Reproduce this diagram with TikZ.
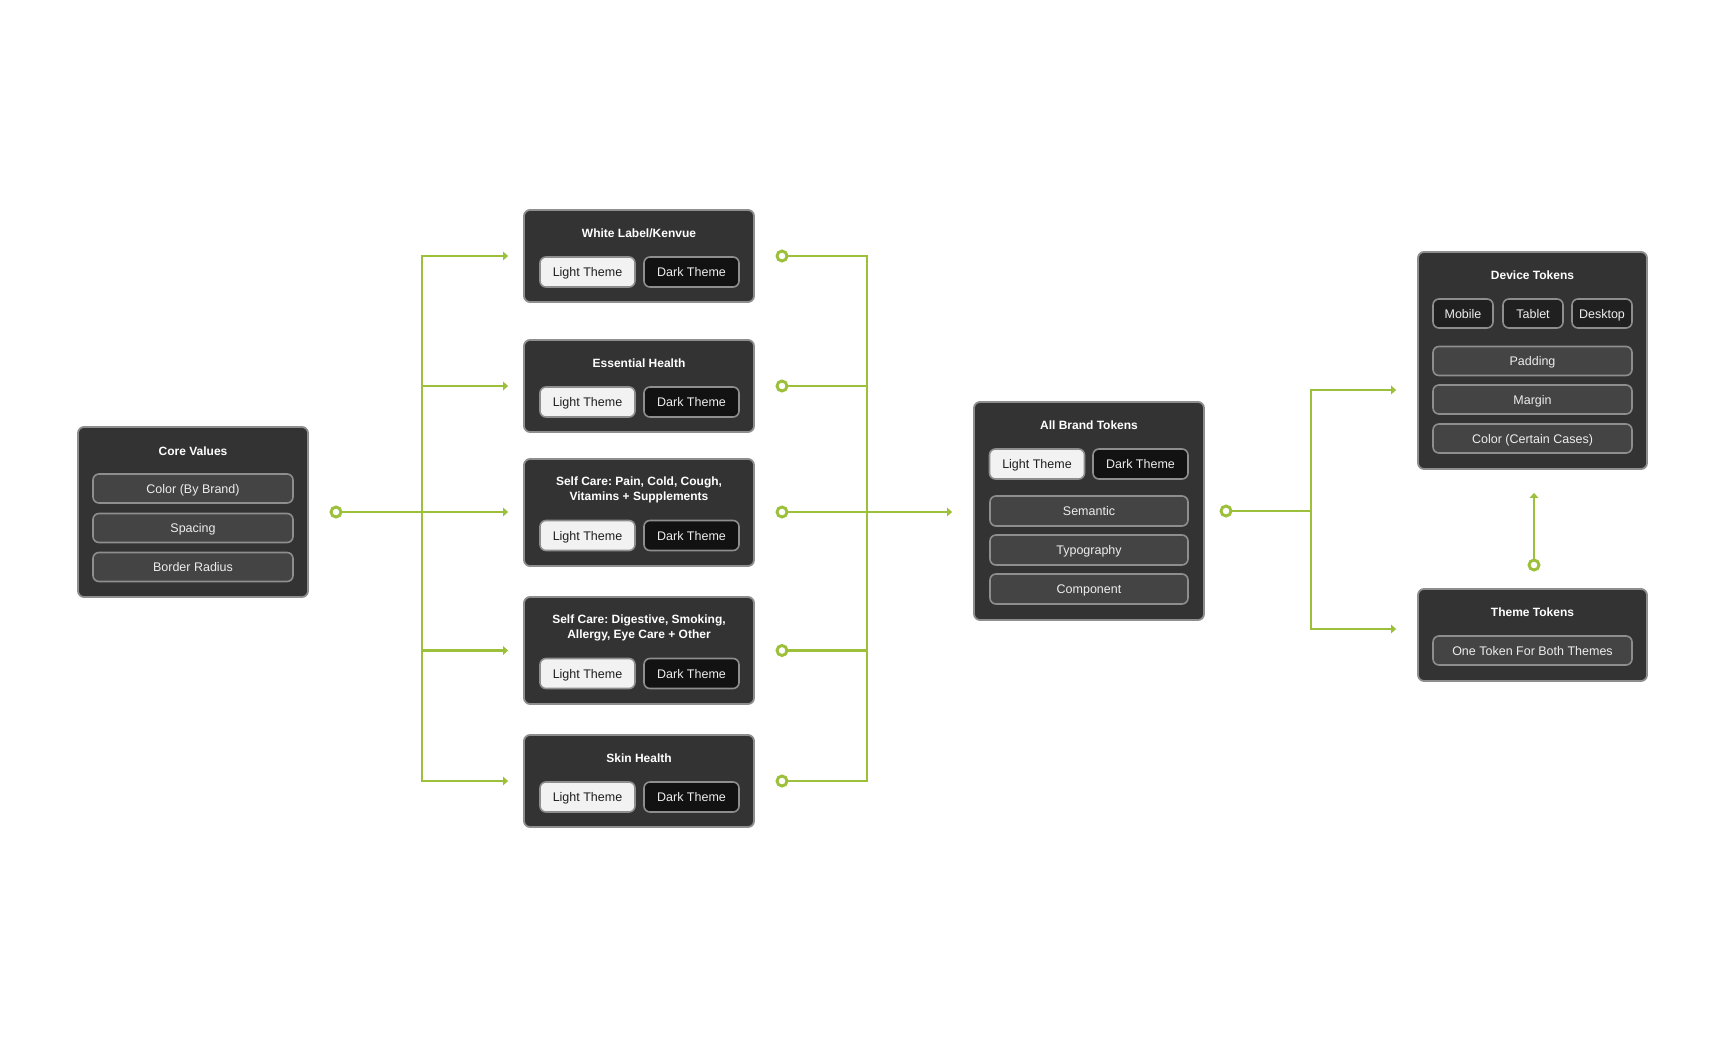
\documentclass[tikz,border=0pt]{standalone}
\usepackage{fontspec}
\setmainfont{Liberation Sans}
\usetikzlibrary{arrows.meta}
\frenchspacing
\definecolor{grn}{HTML}{9CC03A}
\definecolor{boxfill}{HTML}{333333}
\definecolor{boxline}{HTML}{8E8E8E}
\definecolor{pillfill}{HTML}{444444}
\definecolor{lightfill}{HTML}{F2F2F2}
\definecolor{darkfill}{HTML}{121212}
\definecolor{devfill}{HTML}{202020}
\definecolor{txtlight}{HTML}{EDEDED}
\definecolor{txtdark}{HTML}{1E1E1E}
\begin{document}
\begin{tikzpicture}[x=1pt,y=-1pt,
 card/.style={draw=boxline, fill=boxfill, line width=1.8pt, rounded corners=6pt, inner sep=0pt},
 ttl/.style={text=white, font=\bfseries\fontsize{12}{15}\selectfont, align=center, inner sep=0pt},
 pill/.style={draw=boxline, line width=1.6pt, rounded corners=6pt, inner sep=0pt, text height=9pt, text depth=0pt, font=\fontsize{12.5}{15}\selectfont},
 grey/.style={pill, fill=pillfill, text=txtlight},
 lt/.style={pill, fill=lightfill, text=txtdark},
 dk/.style={pill, fill=darkfill, text=txtlight},
 dev/.style={pill, fill=devfill, text=txtlight},
 conn/.style={draw=grn, line width=2.9pt},
 arr/.style={conn, -{Triangle[length=5pt,width=8.5pt]}},
 dot/.style={circle, draw=grn, line width=2.9pt, fill=white, minimum size=10pt, inner sep=0pt},
 pw/.style={minimum width=95pt, minimum height=30pt},
 rw/.style={minimum width=200pt, minimum height=29pt},
]
\useasboundingbox (0,0) rectangle (1726,1036);
\fill[white] (0,0) rectangle (1726,1036);

% ---------- Core Values ----------
\node[card, minimum width=230pt, minimum height=170pt] (core) at (193,512) {};
\node[ttl] (coreT) at (193,451) {Core Values};
\node[grey, rw] (core1) at (193,488.5) {Color (By Brand)};
\node[grey, rw] (core2) at (193,528) {Spacing};
\node[grey, rw] (core3) at (193,567) {Border Radius};

% ---------- Middle brand cards ----------
\node[card, minimum width=230pt, minimum height=92pt] (wl) at (639,256) {};
\node[ttl] (wlT) at (639,233) {White Label/Kenvue};
\node[lt, pw] (wlL) at (587.5,272) {Light Theme};
\node[dk, pw] (wlD) at (691.5,272) {Dark Theme};

\node[card, minimum width=230pt, minimum height=92pt] (eh) at (639,386) {};
\node[ttl] (ehT) at (639,363) {Essential Health};
\node[lt, pw] (ehL) at (587.5,402) {Light Theme};
\node[dk, pw] (ehD) at (691.5,402) {Dark Theme};

\node[card, minimum width=230pt, minimum height=107pt] (sa) at (639,512.5) {};
\node[ttl] (saT) at (639,489.5) {Self Care: Pain, Cold, Cough,\\Vitamins + Supplements};
\node[lt, pw] (saL) at (587.5,535.5) {Light Theme};
\node[dk, pw] (saD) at (691.5,535.5) {Dark Theme};

\node[card, minimum width=230pt, minimum height=107pt] (sb) at (639,650.5) {};
\node[ttl] (sbT) at (639,627.5) {Self Care: Digestive, Smoking,\\Allergy, Eye Care + Other};
\node[lt, pw] (sbL) at (587.5,673.5) {Light Theme};
\node[dk, pw] (sbD) at (691.5,673.5) {Dark Theme};

\node[card, minimum width=230pt, minimum height=92pt] (sh) at (639,781) {};
\node[ttl] (shT) at (639,758) {Skin Health};
\node[lt, pw] (shL) at (587.5,797) {Light Theme};
\node[dk, pw] (shD) at (691.5,797) {Dark Theme};

% ---------- All Brand Tokens ----------
\node[card, minimum width=230pt, minimum height=218pt] (ab) at (1089,511) {};
\node[ttl] (abT) at (1089,425) {All Brand Tokens};
\node[lt, pw] (abL) at (1037,464) {Light Theme};
\node[dk, pw] (abD) at (1140.5,464) {Dark Theme};
\node[grey, minimum width=198pt, minimum height=30pt] (ab1) at (1089,511) {Semantic};
\node[grey, minimum width=198pt, minimum height=30pt] (ab2) at (1089,550) {Typography};
\node[grey, minimum width=198pt, minimum height=30pt] (ab3) at (1089,589) {Component};

% ---------- Device Tokens ----------
\node[card, minimum width=229pt, minimum height=217pt] (dv) at (1532.5,360.5) {};
\node[ttl] (dvT) at (1532.5,275) {Device Tokens};
\node[dev, minimum width=60pt, minimum height=29pt] (dvM) at (1463,313.5) {Mobile};
\node[dev, minimum width=60pt, minimum height=29pt] (dvT2) at (1533,313.5) {Tablet};
\node[dev, minimum width=60pt, minimum height=29pt] (dvD) at (1602,313.5) {Desktop};
\node[grey, minimum width=199pt, minimum height=29pt] (dv1) at (1532.5,361) {Padding};
\node[grey, minimum width=199pt, minimum height=29pt] (dv2) at (1532.5,399.5) {Margin};
\node[grey, minimum width=199pt, minimum height=29pt] (dv3) at (1532.5,438.5) {Color (Certain Cases)};

% ---------- Theme Tokens ----------
\node[card, minimum width=229pt, minimum height=92pt] (tt) at (1532.5,635) {};
\node[ttl] (ttT) at (1532.5,612) {Theme Tokens};
\node[grey, minimum width=199pt, minimum height=29pt] (tt1) at (1532.5,650.5) {One Token For Both Themes};

% ---------- Connectors: left tree ----------
\coordinate (j0) at (422,512);
\draw[conn, line cap=rect] (wl.west -| j0) -- (sh.west -| j0);
\node[dot] (c0) at (336,512) {};
\draw[arr, shorten >=15pt] (c0.east) -- (c0.east -| sa.west);
\foreach \b in {wl,eh,sb,sh}{
  \draw[arr, shorten >=15pt] (\b.west -| j0) -- (\b.west);
}

% ---------- Connectors: middle tree ----------
\coordinate (j1) at (867,512);
\node[dot] (r1) at (782,256) {};
\node[dot] (r2) at (782,386) {};
\node[dot] (r3) at (782,512) {};
\node[dot] (r4) at (782,650.5) {};
\node[dot] (r5) at (782,781) {};
\draw[conn, line cap=rect] (r1 -| j1) -- (r5 -| j1);
\foreach \r in {r1,r2,r4,r5}{
  \draw[conn] (\r.east) -- (\r -| j1);
}
\draw[arr, shorten >=21pt] (r3.east) -- (r3 -| ab.west);

% ---------- Connectors: right tree ----------
\node[dot] (c2) at (1226,511) {};
\coordinate (j2) at (1311,511);
\coordinate (d1) at (1311,390);
\coordinate (d2) at (1311,629);
\draw[conn] (c2.east) -- (j2);
\draw[conn, line cap=rect] (d1) -- (d2);
\draw[arr, shorten >=21pt] (d1) -- (d1 -| dv.west);
\draw[arr, shorten >=21pt] (d2) -- (d2 -| tt.west);

% ---------- Vertical link ----------
\node[dot] (c3) at (1534,565) {};
\draw[arr, shorten >=23pt] (c3.north) -- (c3 |- dv.south);
\end{tikzpicture}
\end{document}
